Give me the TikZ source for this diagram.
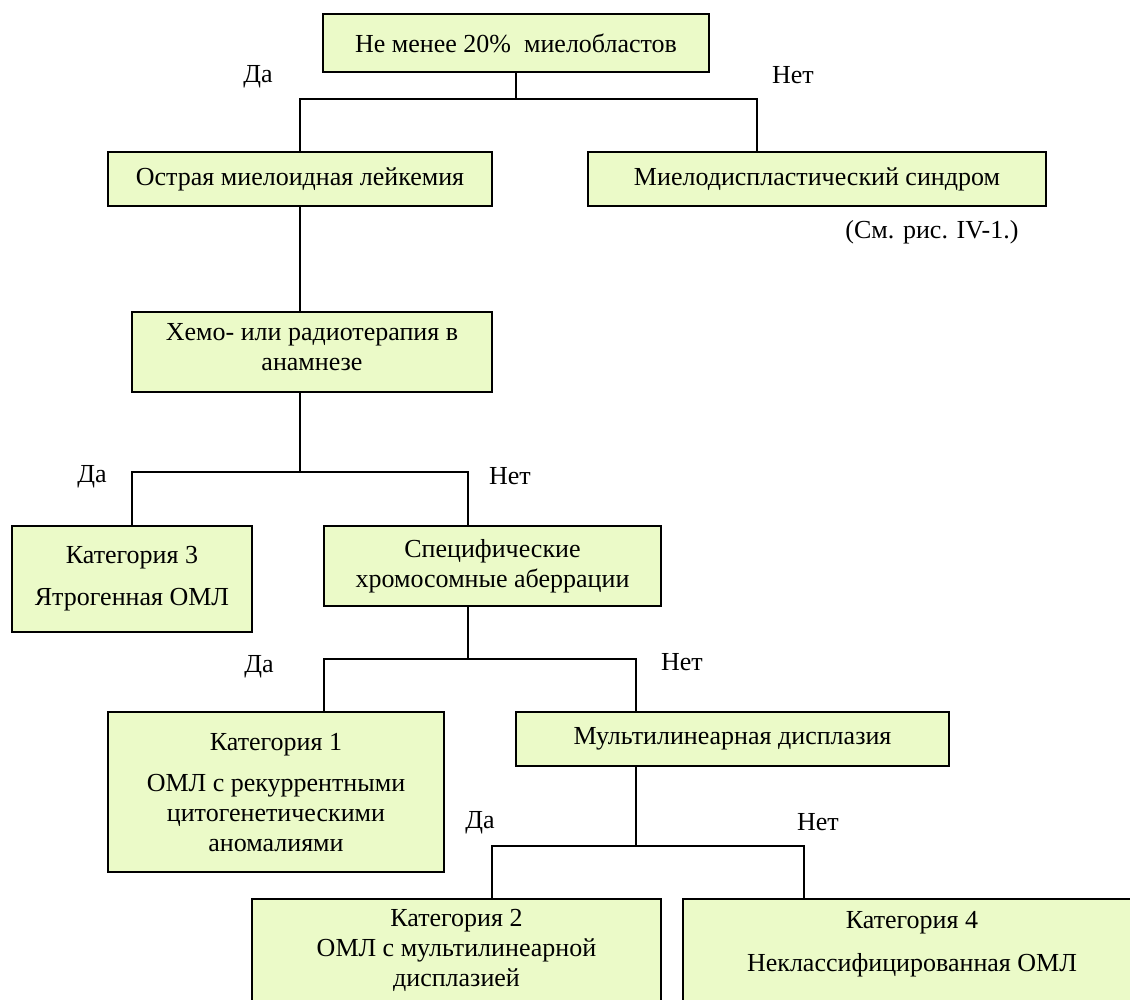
\documentclass[tikz,border=0pt]{standalone}
\usepackage{fontspec}
\setmainfont{Liberation Serif}
\definecolor{boxfill}{RGB}{235,250,200}
\tikzset{%
  decbox/.style = {shape=rectangle, draw, line width=1.4pt, fill=boxfill,%
                   align=center, inner sep=0pt},%
  answer/.style = {inner sep=0pt},%
  link/.style   = {line width=1.3pt}%
}

\begin{document}
\begin{tikzpicture}
  [x=1pt,y=-1pt,every node/.style={font=\fontsize{26}{30}\selectfont}]
  \useasboundingbox (0,0) rectangle (1130,1000);
  % boxes
  \node[decbox, minimum width=386pt, minimum height=58pt] (top) at (516,43) {Не менее 20\%~ миелобластов};
  \node[decbox, minimum width=384pt, minimum height=54pt] (osml) at (300,179) {Острая миелоидная лейкемия};
  \node[decbox, minimum width=458pt, minimum height=54pt] (mds) at (817,179) {Миелодиспластический синдром};
  \node[answer] (ref) at (932,232) {(См. рис. IV-1.)};
  \node[decbox, minimum width=360pt, minimum height=80pt, text depth=10pt] (chemo) at (312,352) {Хемо- или радиотерапия в\\анамнезе};
  \node[decbox, minimum width=240pt, minimum height=106pt] (cat3) at (132,579) {Категория 3\\[12pt]Ятрогенная ОМЛ};
  \node[decbox, minimum width=337pt, minimum height=80pt] (chrom) at (492.5,566) {Специфические\\хромосомные аберрации};
  \node[decbox, minimum width=336pt, minimum height=160pt, text depth=0pt] (cat1) at (276,792) {Категория 1\\[11pt]ОМЛ с рекуррентными\\цитогенетическими\\аномалиями};
  \node[decbox, minimum width=433pt, minimum height=54pt] (multi) at (732.5,739) {Мультилинеарная дисплазия};
  \node[decbox, minimum width=409pt, minimum height=102pt] (cat2) at (456.5,950) {Категория 2\\ОМЛ с мультилинеарной\\дисплазией};
  \node[decbox, minimum width=458pt, minimum height=102pt, text depth=17pt] (cat4) at (912,950) {Категория 4\\[13pt]Неклассифицированная ОМЛ};
  % yes / no
  \node[answer] (yes1) at (258,77) {Да};
  \node[answer] (no1) at (793,75) {Нет};
  \node[answer] (yes2) at (92,477) {Да};
  \node[answer] (no2) at (510,476) {Нет};
  \node[answer] (yes3) at (259,667) {Да};
  \node[answer] (no3) at (682,662) {Нет};
  \node[answer] (yes4) at (480,823) {Да};
  \node[answer] (no4) at (818,822) {Нет};
  % forks
  \coordinate (b1) at (757,99);
  \coordinate (a2) at (132,472);
  \coordinate (b2) at (468,472);
  \coordinate (a3) at (324,659);
  \coordinate (b3) at (636,659);
  \coordinate (a4) at (492,846);
  \coordinate (b4) at (804,846);
  \draw[link] (top.south) -- (top.south |- b1);
  \draw[link] (osml.north) |- (b1) -- (b1 |- mds.north);
  \draw[link] (osml.south) -- (osml.south |- chemo.north);
  \draw[link] (osml.south |- chemo.south) -- (osml.south |- a2);
  \draw[link] (cat3.north) |- (b2) -- (b2 |- chrom.north);
  \draw[link] (b2 |- chrom.south) -- (b2 |- b3);
  \draw[link] (a3 |- cat1.north) |- (b3) -- (b3 |- multi.north);
  \draw[link] (b3 |- multi.south) -- (b3 |- b4);
  \draw[link] (a4 |- cat2.north) |- (b4) -- (b4 |- cat4.north);
\end{tikzpicture}
\end{document}
